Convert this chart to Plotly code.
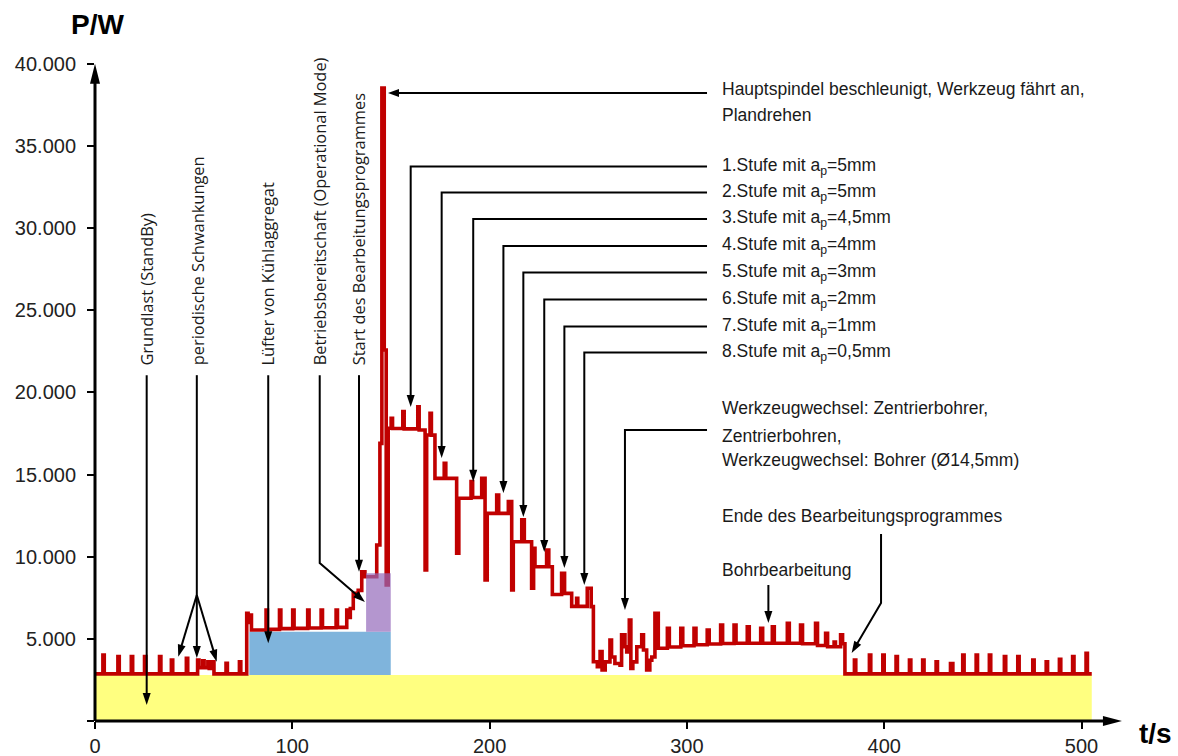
import math
import plotly.graph_objects as go

# ---------------- data ----------------
# power curve, step-wise (t in s, P in W)
standby_t = [0.0, 4.0, 4.7, 11.6, 12.3, 18.4, 19.1, 25.1, 25.8, 32.7, 33.4, 38.7, 39.4, 46.3, 47.0,
             52.0, 52.7, 54.6, 55.3, 57.2, 57.9, 59.6, 60.3, 66.4, 67.1, 73.2, 73.9]
standby_p = [2870, 4020, 2870, 3920, 2870, 3920, 2870, 3920, 2870, 3920, 2870, 3710, 2870, 3810, 2870,
             3710, 3250, 3660, 3250, 3610, 3200, 3610, 2870, 3510, 2870, 3610, 2870]
fan_t = [76.9, 77.6, 78.6, 79.3, 86.7, 87.4, 93.5, 94.2, 100.2, 100.9, 107.8, 108.5, 114.6, 115.3, 122.2, 122.9]
fan_p = [6560, 6000, 6450, 5540, 6760, 5580, 6760, 5620, 6760, 5640, 6760, 5660, 6760, 5680, 6760, 5700]
ramp_t = [127.6, 128.3, 129.4, 130.9, 133.4, 135.2, 136.8, 142.8, 144.4, 145.4, 146.6, 147.6, 148.6]
ramp_p = [6750, 6300, 6850, 7770, 7950, 9080, 8780, 10710, 16900, 38530, 22580, 8280, 17820]
turn1_t = [150.1, 150.8, 156.0, 156.7, 163.6, 164.3, 167.3, 168.1, 169.8, 170.5, 172.3]
turn1_p = [18430, 17800, 18830, 17780, 19130, 17710, 9190, 17410, 18730, 17400, 14770]
turn2_t = [177.0, 177.8, 183.3, 184.4, 190.6, 191.4, 196.0, 197.7, 198.8]
turn2_p = [15690, 14770, 10210, 13560, 14570, 13600, 14770, 8580, 12640]
turn3_t = [203.6, 204.6, 209.5, 211.2, 212.0, 216.3, 217.6, 221.3, 222.3, 223.0]
turn3_p = [13760, 12640, 13350, 7970, 10910, 12240, 10910, 8080, 10510, 9390]
turn4_t = [228.9, 230.0, 231.8, 236.5, 238.0, 241.6, 244.1, 244.7, 249.5, 251.5]
turn4_p = [10410, 9390, 7700, 8990, 7770, 6980, 7470, 6980, 8080, 6960]
change_t = [252.6, 254.6, 256.0, 257.0, 258.6, 261.0, 261.8, 263.5, 266.1, 266.9, 268.6, 269.5,
            270.8, 271.6, 272.6, 274.6, 277.1, 278.0, 279.6, 281.2, 282.2, 283.8, 285.5]
change_p = [3610, 3300, 4220, 3100, 3600, 4930, 3900, 3500, 3400, 5240, 4520, 4200,
            6150, 3200, 3600, 4520, 5240, 4320, 3100, 3700, 3900, 6560, 4430]
drill_t = [290.1, 291.1, 296.9, 297.9, 303.6, 304.6, 310.3, 311.3, 317.1, 318.1, 323.9, 324.9,
           330.6, 331.6, 337.4, 338.4, 343.3, 344.3, 350.9, 351.9, 357.6, 358.6, 365.2, 366.2,
           370.3, 371.3, 374.6, 375.3, 377.9, 378.9, 380.1]
drill_p = [5640, 4500, 5640, 4580, 5640, 4640, 5540, 4690, 5840, 4720, 5840, 4730,
           5740, 4730, 5640, 4730, 5740, 4730, 5950, 4730, 5840, 4700, 5950, 4600,
           5340, 4520, 4800, 4520, 5240, 4700, 2870]
end_t = [384.9, 385.6, 392.5, 393.2, 399.3, 400.0, 406.0, 406.7, 412.8, 413.5, 419.5, 420.2,
         426.3, 427.0, 433.6, 434.8, 439.8, 440.5, 446.6, 447.3, 453.3, 454.0, 460.9, 461.6,
         467.7, 468.4, 475.3, 476.0, 482.1, 482.8, 488.8, 489.5, 495.5, 496.2, 502.3, 503.0, 505.2]
end_p = [3710, 2870, 4020, 2870, 4020, 2870, 3920, 2870, 3710, 2870, 3710, 2870,
         3610, 2870, 3500, 2870, 4020, 2870, 4020, 2870, 4020, 2870, 3920, 2870,
         3920, 2870, 3710, 2870, 3610, 2870, 3760, 2870, 3920, 2870, 4120, 2870, 2870]

# load blocks (t range, P range)
grundlast_t = [0.0, 505.2]
grundlast_p = [0, 2800]
luefter_t = [78.2, 149.9]
luefter_p = [2800, 5430]
betrieb_t = [137.4, 149.9]
betrieb_p = [5430, 8990]

# axes
x_tickvals = [0, 100, 200, 300, 400, 500]
x_ticktext = ["0", "100", "200", "300", "400", "500"]
y_tickvals = [0, 5000, 10000, 15000, 20000, 25000, 30000, 35000, 40000]
y_ticktext = ["", "5.000", "10.000", "15.000", "20.000", "25.000", "30.000", "35.000", "40.000"]

# vertical labels
vlabel_text = ["Grundlast (StandBy)", "periodische Schwankungen", "Lüfter von Kühlaggregat",
               "Betriebsbereitschaft (Operational Mode)", "Start des Bearbeitungsprogrammes"]
vlabel_t = [26.0, 51.7, 87.6, 113.8, 133.3]

# stage labels
stufe_text = ["1.Stufe mit a<sub>p</sub>=5mm", "2.Stufe mit a<sub>p</sub>=5mm",
              "3.Stufe mit a<sub>p</sub>=4,5mm", "4.Stufe mit a<sub>p</sub>=4mm",
              "5.Stufe mit a<sub>p</sub>=3mm", "6.Stufe mit a<sub>p</sub>=2mm",
              "7.Stufe mit a<sub>p</sub>=1mm", "8.Stufe mit a<sub>p</sub>=0,5mm"]
stufe_p = [33752, 32170, 30557, 28913, 27300, 25656, 24013, 22430]
stufe_corner_t = [160.0, 175.7, 191.7, 207.0, 217.1, 227.7, 237.9, 248.0]
stufe_tip_p = [19113, 16009, 14567, 13878, 12417, 10287, 9313, 8278]

# ---------------- layout geometry ----------------
W, H = 1178, 756
ML, MB = 95, 35
PW, PH = W - ML, H - MB
SX = 1.973      # px per second
SY = 0.016429   # px per watt
X_MAX = PW / SX
Y_MAX = PH / SY

FONT = "Liberation Sans, Arial, sans-serif"
TXT = "#1a1a1a"

power_t = standby_t + fan_t + ramp_t + turn1_t + turn2_t + turn3_t + turn4_t + change_t + drill_t + end_t
power_p = standby_p + fan_p + ramp_p + turn1_p + turn2_p + turn3_p + turn4_p + change_p + drill_p + end_p

fig = go.Figure()


def rect(t, p):
    return [t[0], t[1], t[1], t[0], t[0]], [p[0], p[0], p[1], p[1], p[0]]


for t, p, col in [(grundlast_t, grundlast_p, "#FFFF80"), (luefter_t, luefter_p, "#7FB4DC")]:
    xs, ys = rect(t, p)
    fig.add_trace(go.Scatter(x=xs, y=ys, fill="toself", fillcolor=col, mode="none", hoverinfo="skip"))

fig.add_trace(go.Scatter(x=power_t, y=power_p, mode="lines",
                         line=dict(color="#C00000", width=3.6, shape="hv"), hoverinfo="skip"))

xs, ys = rect(betrieb_t, betrieb_p)
fig.add_trace(go.Scatter(x=xs, y=ys, fill="toself", fillcolor="rgba(148,106,186,0.7)",
                         mode="none", hoverinfo="skip"))


def scales(xref, yref):
    return (PW if xref == "paper" else SX), (PH if yref == "paper" else SY)


def arrow(points, L=12, Wd=8, lw=2, xref="x", yref="y", head=True):
    sx, sy = scales(xref, yref)
    pts = list(points)
    if head:
        (x0, y0), (x1, y1) = pts[-2], pts[-1]
        dx, dy = (x1 - x0) * sx, (y1 - y0) * sy
        n = math.hypot(dx, dy)
        ux, uy = dx / n, dy / n
        pts[-1] = (x1 - ux * L * 0.7 / sx, y1 - uy * L * 0.7 / sy)
    path = "M " + " L ".join(f"{x:.4f} {y:.4f}" for x, y in pts)
    fig.add_shape(type="path", path=path, xref=xref, yref=yref,
                  line=dict(color="black", width=lw), layer="above")
    if head:
        bx, by = -ux * L, -uy * L
        nx, ny = -uy, ux
        tri = (f"M 0 0 L {bx + nx * Wd / 2:.2f} {by + ny * Wd / 2:.2f} "
               f"L {bx - nx * Wd / 2:.2f} {by - ny * Wd / 2:.2f} Z")
        fig.add_shape(type="path", path=tri, xref=xref, yref=yref,
                      xsizemode="pixel", ysizemode="pixel", xanchor=x1, yanchor=y1,
                      fillcolor="black", line=dict(width=0), layer="above")


# axis arrows (paper coordinates)
axis_x_end = 520.5
axis_y_end = 40000
arrow([(0, 0), (0, axis_y_end / Y_MAX)], L=20, Wd=10, lw=3, xref="paper", yref="paper")
arrow([(0, 0), (axis_x_end / X_MAX, 0)], L=19, Wd=10, lw=3, xref="paper", yref="paper")

# vertical labels and their arrows
LBL_BOTTOM = 21500
LINE_TOP = 21050
for txt, t in zip(vlabel_text, vlabel_t):
    fig.add_annotation(x=t, y=LBL_BOTTOM, text=txt, textangle=-90, showarrow=False,
                       xanchor="center", yanchor="bottom",
                       font=dict(family="Open Sans", size=16.4, color=TXT))

arrow([(26.2, LINE_TOP), (26.2, 974)])
arrow([(51.6, LINE_TOP), (51.6, 7670)], head=False)
arrow([(51.6, 7670), (42.2, 3914)])
arrow([(51.6, 7670), (51.6, 3835)])
arrow([(51.6, 7670), (61.7, 3610)])
arrow([(87.8, LINE_TOP), (87.8, 4730)])
arrow([(113.9, LINE_TOP), (113.9, 9617), (136.8, 7243)])
arrow([(133.8, LINE_TOP), (133.8, 9088)])

# right-hand labels
TX = 316.8
CONN = 310.2


def rlabel(text, p):
    fig.add_annotation(x=TX, y=p, text=text, showarrow=False, xanchor="left", yanchor="middle",
                       font=dict(family=FONT, size=17.5, color=TXT))


rlabel("Hauptspindel beschleunigt, Werkzeug fährt an,", 38470)
rlabel("Plandrehen", 36857)
arrow([(CONN, 38226), (148.5, 38226)], L=11, Wd=8)

for txt, p, c, tip in zip(stufe_text, stufe_p, stufe_corner_t, stufe_tip_p):
    rlabel(txt, p)
    arrow([(CONN, p), (c, p), (c, tip)])

rlabel("Werkzeugwechsel: Zentrierbohrer,", 19052)
rlabel("Zentrierbohren,", 17348)
rlabel("Werkzeugwechsel: Bohrer (Ø14,5mm)", 15880)
arrow([(CONN, 17713), (268.6, 17713), (268.6, 6757)])

rlabel("Ende des Bearbeitungsprogrammes", 12478)
arrow([(398.4, 11383), (398.4, 7183), (383.5, 4139)])

rlabel("Bohrbearbeitung", 9191)
arrow([(341.3, 8278), (341.3, 5965)])

# axis titles
fig.add_annotation(x=2.5 / PW, y=(PH - 25) / PH, xref="paper", yref="paper", text="<b>P/W</b>",
                   showarrow=False, xanchor="center", yanchor="middle",
                   font=dict(family=FONT, size=28, color="black"))
fig.add_annotation(x=(1155 - ML) / PW, y=(PH - 733) / PH, xref="paper", yref="paper", text="<b>t/s</b>",
                   showarrow=False, xanchor="center", yanchor="middle",
                   font=dict(family=FONT, size=28, color="black"))

axis_common = dict(showgrid=False, zeroline=False, showline=False, ticks="outside", ticklen=7,
                   tickwidth=2, tickcolor="black", tickfont=dict(family=FONT, size=20, color="#222"),
                   fixedrange=True, automargin=False)
fig.update_layout(
    width=W, height=H, margin=dict(l=ML, r=0, t=0, b=MB),
    paper_bgcolor="white", plot_bgcolor="white", showlegend=False, hovermode=False,
    xaxis=dict(range=[0, X_MAX], tickmode="array", tickvals=x_tickvals, ticktext=x_ticktext, **axis_common),
    yaxis=dict(range=[0, Y_MAX], tickmode="array", tickvals=y_tickvals, ticktext=y_ticktext,
               ticklabelstandoff=7, **axis_common),
)

fig.write_html("out.html")
